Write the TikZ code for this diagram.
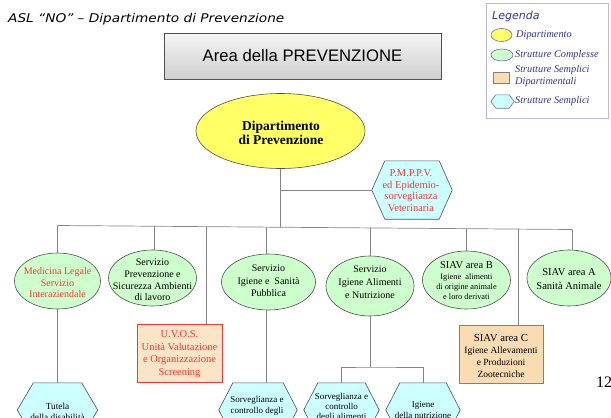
\documentclass[tikz,border=0pt]{standalone}
\usepackage{fontspec}
\setmainfont{Liberation Serif}
\newfontfamily\arialf{Liberation Sans}
\newfontfamily\comicf{DejaVu Sans}
\usetikzlibrary{shapes.geometric,calc}
\definecolor{ellgreen}{HTML}{CCFFCC}
\definecolor{dipyellow}{HTML}{FFFF66}
\definecolor{hexcyan}{HTML}{CCFFFF}
\definecolor{peach}{HTML}{FCE4C6}
\definecolor{tanbox}{HTML}{FBDCB2}
\definecolor{redtxt}{HTML}{FF3333}
\definecolor{navy}{HTML}{333399}
\definecolor{legborder}{HTML}{B8B8F0}
\definecolor{linegray}{HTML}{858585}
\definecolor{shapeborder}{HTML}{505050}
\definecolor{legshape}{HTML}{6A6AB8}
\newcommand\hexn[7][shapeborder]{%
  \node[hexbb, minimum width=#5pt, minimum height=#6pt] (#2) at (#3,#4) {};
  \filldraw[hexst, draw=#1] (#2.west) -- ([xshift=#7pt]#2.north west) -- ([xshift=-#7pt]#2.north east) -- (#2.east) -- ([xshift=-#7pt]#2.south east) -- ([xshift=#7pt]#2.south west) -- cycle;}
\begin{document}
\begin{tikzpicture}[x=1pt,y=-1pt,
  conn/.style={draw=linegray, line width=0.7pt},
  ell/.style={ellipse, draw=shapeborder, fill=ellgreen, line width=0.6pt, inner sep=0pt},
  txt/.style={align=center, inner sep=0pt, font=\fontsize{10}{11.5}\selectfont},
  redt/.style={text=redtxt},
  hexbb/.style={rectangle, inner sep=0pt, draw=none},
  hexst/.style={fill=hexcyan, line width=0.6pt},
  legtxt/.style={anchor=west, inner sep=0pt, text=navy, align=left, font=\itshape\fontsize{10.3}{11.5}\selectfont}]
\useasboundingbox (0,0) rectangle (611,418);
\fill[white] (0,0) rectangle (611,418);

% title
\node[anchor=west, inner sep=0pt, font=\comicf\itshape\fontsize{12}{13}\selectfont] (title) at (8,19) {\scalebox{1.14}[1]{ASL “NO” – Dipartimento di Prevenzione}};

% area box
\node[draw=shapeborder, line width=0.6pt, top color=gray!8, bottom color=gray!38, minimum width=277pt, minimum height=46pt, inner sep=0pt, font=\arialf\fontsize{16.7}{18}\selectfont] (area) at (302.5,56) {Area della PREVENZIONE};

% dipartimento
\node[ellipse, draw=shapeborder, line width=0.6pt, fill=dipyellow, minimum width=169pt, minimum height=75pt, inner sep=0pt] (dip) at (280.5,131) {};
\node[txt, font=\bfseries\fontsize{13.5}{14}\selectfont] (diptxt) at (281,133) {Dipartimento\\di Prevenzione};

% PMPPV hexagon
\hexn{pm}{412}{190}{80}{58}{13}
\node[txt, redt, font=\fontsize{10.5}{11.6}\selectfont] (pmt) at (411,190.5) {P.M.P.P.V.\\ed Epidemio-\\sorveglianza\\Veterinaria};

% bus coordinates
\coordinate (b1) at (57.5,225.5);
\coordinate (b2) at (154.5,226.3);
\coordinate (b3) at (206.5,226.7);
\coordinate (b4) at (266.5,227.1);
\coordinate (bc) at (280.5,227.3);
\coordinate (b5) at (370,228);
\coordinate (b6) at (466.5,228.7);
\coordinate (b7) at (518,229.1);
\coordinate (b8) at (572,229.5);

% green ellipses
\node[ell, minimum width=86pt, minimum height=56pt] (e1) at (57.5,281) {};
\node[ell, minimum width=88pt, minimum height=56pt] (e2) at (152.5,278) {};
\node[ell, minimum width=94pt, minimum height=56pt] (e3) at (268.5,282) {};
\node[ell, minimum width=88pt, minimum height=60pt] (e4) at (370,286) {};
\node[ell, minimum width=88pt, minimum height=58pt] (e5) at (466.5,280) {};
\node[ell, minimum width=84pt, minimum height=56pt] (e6) at (569,278) {};

\node[txt, redt] (e1t) at (57.5,283) {Medicina Legale\\Servizio\\Interaziendale};
\node[txt, font=\fontsize{10}{11.8}\selectfont] (e2t) at (152.5,280) {Servizio\\Prevenzione e\\Sicurezza Ambienti\\di lavoro};
\node[txt, font=\fontsize{10}{12.3}\selectfont] (e3t) at (268.5,281) {Servizio\\Igiene e~~Sanità\\Pubblica};
\node[txt, font=\fontsize{10}{12.8}\selectfont] (e4t) at (370,282) {Servizio\\Igiene Alimenti\\e Nutrizione};
\node[txt, font=\fontsize{8.3}{10.3}\selectfont] (e5t) at (466.5,281) {{\fontsize{10.5}{11}\selectfont SIAV area B}\\Igiene~ alimenti\\di origine animale\\e loro derivati};
\node[txt, font=\fontsize{10.5}{14}\selectfont] (e6t) at (569,279.5) {SIAV area A\\Sanità Animale};

% rectangles
\node[draw=redtxt, line width=0.7pt, fill=peach, minimum width=85pt, minimum height=58pt, inner sep=0pt] (uvos) at (179.5,353) {};
\node[txt, redt, font=\fontsize{10.5}{12.5}\selectfont] (uvost) at (179.5,354) {U.V.O.S.\\Unità Valutazione\\e Organizzazione\\Screening};
\node[draw=gray, line width=0.7pt, fill=tanbox, minimum width=84pt, minimum height=58pt, inner sep=0pt] (siavc) at (501,354) {};
\node[txt, font=\fontsize{9.5}{12}\selectfont] (siavct) at (501,356) {{\fontsize{10.8}{12}\selectfont SIAV area C}\\Igiene Allevamenti\\e Produzioni\\Zootecniche};

% bottom hexagons
\hexn{tut}{57.5}{410}{80}{54}{16}
\hexn{sv1}{258}{410}{78}{54}{14}
\hexn{sv2}{341.5}{410}{75}{54}{14}
\hexn{ign}{423}{410}{74}{54}{14}
\node[txt, font=\fontsize{9.3}{11.5}\selectfont] (tutt) at (57.5,412) {Tutela\\della disabilità};
\node[txt, font=\fontsize{9}{11}\selectfont] (sv1t) at (257,405.5) {Sorveglianza e\\controllo degli};
\node[txt, font=\fontsize{9}{10}\selectfont] (sv2t) at (341.5,407) {Sorveglianza e\\controllo\\degli alimenti};
\node[txt, font=\fontsize{9}{11}\selectfont] (ignt) at (423,410.5) {Igiene\\della nutrizione};

% connectors
\draw[conn] (dip.south) -- (bc);
\draw[conn] (dip.south |- pm.west) -- (pm.west);
\draw[conn] (b1) -- (b8);
\draw[conn] (b1) -- (e1.north);
\draw[conn] (b2) -- (b2 |- e2.north);
\draw[conn] (b3) -- (b3 |- uvos.north);
\draw[conn] (b4) -- (b4 |- e3.north);
\draw[conn] (b5) -- (e4.north);
\draw[conn] (b6) -- (b6 |- e5.north);
\draw[conn] (b7) -- (b7 |- siavc.north);
\draw[conn] (b8) -- (b8 |- e6.north);
\draw[conn] (e1.south) -- (tut.north);
\draw[conn] (b4 |- e3.south) -- (b4 |- sv1.north);
\coordinate (j4) at (370,367);
\draw[conn] (e4.south) -- (j4);
\draw[conn] (sv2.north) |- (j4) -| (ign.north);

% page number
\node[anchor=west, inner sep=0pt, font=\fontsize{16}{18}\selectfont] (pg) at (596,382) {12};

% legend
\node[draw=legborder, line width=0.7pt, minimum width=122pt, minimum height=115pt, inner sep=0pt, anchor=north west] (leg) at (486,3) {};
\node[anchor=west, inner sep=0pt, text=navy, font=\comicf\itshape\fontsize{11}{12}\selectfont] (legt) at (492,16) {Legenda};
\node[ellipse, draw=legshape, line width=0.6pt, fill=dipyellow, minimum width=21pt, minimum height=13pt, inner sep=0pt] (lg1) at (501.5,35) {};
\node[legtxt] (lg1t) at (516,35) {Dipartimento};
\node[ellipse, draw=legshape, line width=0.6pt, fill=ellgreen, minimum width=22pt, minimum height=12pt, inner sep=0pt] (lg2) at (502,55) {};
\node[legtxt] (lg2t) at (515,55) {Strutture Complesse};
\node[draw=gray, line width=0.6pt, fill=tanbox, minimum width=16pt, minimum height=11pt, inner sep=0pt] (lg3) at (501,77.5) {};
\node[legtxt, font=\itshape\fontsize{10.3}{12}\selectfont] (lg3t) at (515,76.5) {Strutture Semplici\\Dipartimentali};
\hexn[legshape]{lg4}{502.5}{101.5}{23}{13}{5}
\node[legtxt] (lg4t) at (515,101.5) {Strutture Semplici};
\end{tikzpicture}
\end{document}
